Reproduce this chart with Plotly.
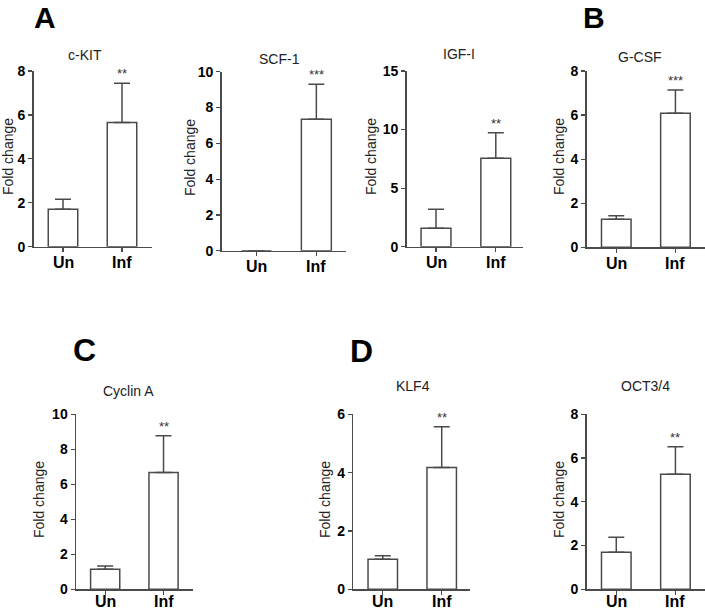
import plotly.graph_objects as go

# ---------------- data ----------------
genes = ["c-KIT", "SCF-1", "IGF-I", "G-CSF", "Cyclin A", "KLF4", "OCT3/4"]
groups = ["Un", "Inf"]
un_mean = [1.70, 0.0, 1.57, 1.27, 1.14, 1.03, 1.69]
un_err = [0.46, 0.0, 1.62, 0.16, 0.19, 0.12, 0.69]
inf_mean = [5.66, 7.35, 7.55, 6.08, 6.67, 4.18, 5.26]
inf_err = [1.78, 1.95, 2.18, 1.06, 2.11, 1.39, 1.26]
stars = ["**", "***", "**", "***", "**", "**", "**"]
y_max = [8, 10, 15, 8, 10, 6, 8]
y_dtick = [2, 2, 5, 2, 2, 2, 2]
panel_letters = ["A", "B", "C", "D"]
y_title = "Fold change"

# ---------------- layout (pixels) ----------------
W, H = 705, 610
# x0, x1, ytop, ybottom, xrange
boxes = [
    (33.5, 151.5, 71.0, 246.7, [-0.5, 1.5]),
    (221.7, 345.7, 71.7, 250.7, [-0.58, 1.49]),
    (406.7, 523.3, 71.0, 246.7, [-0.49, 1.46]),
    (586.7, 705.0, 71.0, 247.3, [-0.5, 1.5]),
    (76.0, 192.7, 414.3, 589.3, [-0.5, 1.5]),
    (353.3, 470.0, 414.3, 589.3, [-0.5, 1.48]),
    (586.7, 705.0, 414.3, 589.3, [-0.5, 1.5]),
]
label_shift = [-16, -16, -16, -16, -12, -12, -12]
title_pos = [(85, 55), (279, 59), (459, 54), (640, 57), (128, 391), (413, 386), (645, 386)]
ylab_pos = [(8, 157), (190, 158), (371, 157), (559, 157), (39, 500), (325, 500), (559, 500)]
letter_pos = [(45, 17.5), (594, 17.5), (84, 350), (361, 351)]
letter_size = [30, 30, 32, 32]

def px(x):
    return x / W

def py(y):
    return 1 - y / H

FONT = "Liberation Sans, Arial, sans-serif"
LINE = "#4a4a4a"

fig = go.Figure()
annotations = []

for i, g in enumerate(genes):
    n = i + 1
    sfx = "" if n == 1 else str(n)
    x0, x1, yt, yb, xr = boxes[i]
    fig.add_trace(go.Bar(
        x=groups,
        y=[un_mean[i], inf_mean[i]],
        width=0.5,
        marker=dict(color="white", line=dict(color=LINE, width=1.5)),
        error_y=dict(type="data", symmetric=False,
                     array=[un_err[i], inf_err[i]], arrayminus=[0, 0],
                     color=LINE, thickness=1.5, width=8),
        xaxis="x" + sfx, yaxis="y" + sfx,
        showlegend=False, hoverinfo="skip",
    ))
    fig.update_layout(**{
        "xaxis" + sfx: dict(
            domain=[px(x0), px(x1)], anchor="y" + sfx, automargin=False,
            type="category", categoryorder="array", categoryarray=groups,
            range=xr, showline=True, linecolor=LINE, linewidth=1.5,
            ticks="outside", ticklen=4, tickwidth=1.2, tickcolor=LINE,
            showticklabels=False,
            showgrid=False, zeroline=False, fixedrange=True,
        ),
        "yaxis" + sfx: dict(
            domain=[py(yb), py(yt)], anchor="x" + sfx, automargin=False,
            range=[0, y_max[i]], dtick=y_dtick[i], tick0=0,
            showline=True, linecolor=LINE, linewidth=1.5,
            ticks="outside", ticklen=4, tickwidth=1.2, tickcolor=LINE,
            tickfont=dict(family=FONT, size=14, color="black", weight="bold"),
            showgrid=False, zeroline=False, fixedrange=True,
        ),
    })
    # category labels (positioned through the category axis)
    for grp in groups:
        annotations.append(dict(text=grp, x=grp, y=0, xref="x" + sfx, yref="y" + sfx,
                                xanchor="center", yanchor="middle", yshift=label_shift[i],
                                showarrow=False,
                                font=dict(family=FONT, size=16, color="black", weight="bold")))
    # subplot title
    tx, ty = title_pos[i]
    annotations.append(dict(text=g, x=px(tx), y=py(ty), xref="paper", yref="paper",
                            xanchor="center", yanchor="middle", showarrow=False,
                            font=dict(family=FONT, size=14, color="#222")))
    # y axis title
    lx, ly = ylab_pos[i]
    annotations.append(dict(text=y_title, x=px(lx), y=py(ly), xref="paper", yref="paper",
                            xanchor="center", yanchor="middle", textangle=-90,
                            showarrow=False,
                            font=dict(family=FONT, size=14, color="#222")))
    # significance stars
    annotations.append(dict(text=stars[i], x="Inf", y=inf_mean[i] + inf_err[i],
                            xref="x" + sfx, yref="y" + sfx,
                            xanchor="center", yanchor="bottom", yshift=0,
                            showarrow=False,
                            font=dict(family=FONT, size=13, color="#333")))

for L, (lx, ly), fs in zip(panel_letters, letter_pos, letter_size):
    annotations.append(dict(text=L, x=px(lx), y=py(ly), xref="paper", yref="paper",
                            xanchor="center", yanchor="middle", showarrow=False,
                            font=dict(family=FONT, size=fs, color="black", weight="bold")))

fig.update_layout(
    template="none",
    width=W, height=H,
    margin=dict(l=0, r=0, t=0, b=0, autoexpand=False),
    paper_bgcolor="white", plot_bgcolor="white",
    annotations=annotations,
    bargap=0.5,
)

fig.write_html(
    "out.html",
    config={"displayModeBar": False, "staticPlot": True},
    post_script="document.body.style.margin='0';document.body.style.padding='0';"
                "document.body.style.overflow='hidden';",
)
